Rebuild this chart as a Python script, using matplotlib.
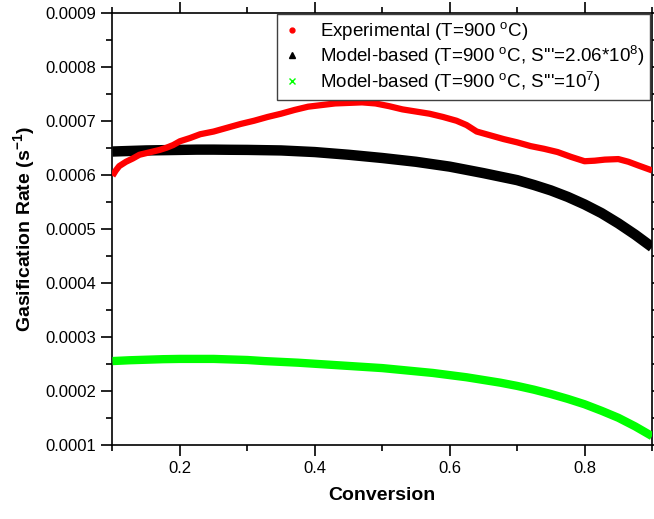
import numpy as np
import matplotlib
matplotlib.use('Agg')
import matplotlib.pyplot as plt
from matplotlib.lines import Line2D
from matplotlib.ticker import MultipleLocator, FormatStrFormatter

plt.rcParams['font.family'] = 'Liberation Sans'
plt.rcParams['mathtext.fontset'] = 'custom'
plt.rcParams['mathtext.rm'] = 'Liberation Sans'
plt.rcParams['mathtext.it'] = 'Liberation Sans:italic'
plt.rcParams['mathtext.bf'] = 'Liberation Sans:bold'

# experimental gasification rate (x1e-4 s^-1)
conv_exp = [0.100, 0.105, 0.110, 0.120, 0.130, 0.140, 0.150, 0.160, 0.170, 0.180,
            0.190, 0.200, 0.215, 0.230, 0.250, 0.270, 0.290, 0.310, 0.330, 0.350,
            0.370, 0.390, 0.410, 0.430, 0.450, 0.470, 0.490, 0.510, 0.530, 0.550,
            0.570, 0.590, 0.610, 0.625, 0.640, 0.660, 0.680, 0.700, 0.720, 0.740,
            0.760, 0.780, 0.800, 0.815, 0.830, 0.850, 0.865, 0.880, 0.900]
rate_exp = [5.98, 6.08, 6.16, 6.24, 6.30, 6.37, 6.40, 6.43, 6.46, 6.50,
            6.55, 6.62, 6.68, 6.75, 6.80, 6.87, 6.94, 7.00, 7.07, 7.13,
            7.20, 7.26, 7.29, 7.32, 7.33, 7.34, 7.32, 7.27, 7.21, 7.17,
            7.13, 7.07, 7.00, 6.92, 6.80, 6.73, 6.66, 6.60, 6.53, 6.48,
            6.42, 6.33, 6.25, 6.26, 6.28, 6.29, 6.24, 6.17, 6.08]

# model predictions (x1e-4 s^-1)
conv_mod = [0.100, 0.125, 0.150, 0.175, 0.200, 0.225, 0.250, 0.275, 0.300, 0.325,
            0.350, 0.375, 0.400, 0.425, 0.450, 0.475, 0.500, 0.525, 0.550, 0.575,
            0.600, 0.625, 0.650, 0.675, 0.700, 0.725, 0.750, 0.775, 0.800, 0.825,
            0.850, 0.875, 0.900]
rate_mod_a = [6.43, 6.44, 6.45, 6.455, 6.46, 6.465, 6.465, 6.462, 6.46, 6.455,
              6.45, 6.435, 6.42, 6.395, 6.37, 6.34, 6.31, 6.275, 6.24, 6.195,
              6.15, 6.09, 6.03, 5.965, 5.90, 5.81, 5.71, 5.59, 5.45, 5.29,
              5.10, 4.89, 4.66]
rate_mod_b = [2.55, 2.565, 2.575, 2.585, 2.59, 2.59, 2.59, 2.58, 2.57, 2.55,
              2.535, 2.52, 2.50, 2.48, 2.46, 2.44, 2.42, 2.39, 2.36, 2.33,
              2.29, 2.25, 2.20, 2.15, 2.09, 2.02, 1.94, 1.85, 1.75, 1.63,
              1.50, 1.34, 1.16]

scale = 1e-4

fig = plt.figure(figsize=(6.54, 5.19), dpi=100)
ax = fig.add_axes([0.172, 0.143, 0.825, 0.8325])

ax.plot(conv_exp, np.array(rate_exp) * scale, color='red', lw=4.5,
        solid_capstyle='butt', solid_joinstyle='round', zorder=4)
ax.plot(conv_mod, np.array(rate_mod_a) * scale, color='black', lw=7.5,
        solid_capstyle='butt', solid_joinstyle='round', zorder=3)
ax.plot(conv_mod, np.array(rate_mod_b) * scale, color='#00ff00', lw=6,
        solid_capstyle='butt', solid_joinstyle='round', zorder=3)

ax.set_xlim(0.1, 0.9)
ax.set_ylim(0.0001, 0.0009)
ax.xaxis.set_major_locator(MultipleLocator(0.2))
ax.xaxis.set_minor_locator(MultipleLocator(0.1))
ax.yaxis.set_major_locator(MultipleLocator(0.0001))
ax.yaxis.set_minor_locator(MultipleLocator(0.00005))
ax.yaxis.set_major_formatter(FormatStrFormatter('%.4f'))
ax.tick_params(which='both', direction='out', top=True, right=True,
               labelsize=12, width=1.2)
ax.tick_params(which='major', length=8)
ax.tick_params(which='minor', length=4)
for s in ax.spines.values():
    s.set_linewidth(1.2)

ax.set_xlabel('Conversion', fontsize=14, fontweight='bold', labelpad=8)
ax.set_ylabel(r'Gasification Rate (s$^{\mathbf{-1}}$)', fontsize=14,
              fontweight='bold', labelpad=6)

handles = [
    Line2D([], [], ls='none', marker='o', ms=3.5, color='red'),
    Line2D([], [], ls='none', marker='^', ms=4.5, color='black'),
    Line2D([], [], ls='none', marker='x', ms=4.5, mew=1, color='#00ff00'),
]
labels = [
    r'Experimental (T=900 $^{\rm o}$C)',
    r"Model-based (T=900 $^{\rm o}$C, S'''=2.06*10$^{8}$)",
    r"Model-based (T=900 $^{\rm o}$C, S'''=10$^{7}$)",
]
leg = ax.legend(handles, labels, loc='upper right', bbox_to_anchor=(0.996, 0.996),
                fontsize=13.5, fancybox=False, framealpha=1, edgecolor='#404040',
                handlelength=1.0, handletextpad=1.0, borderpad=0.3,
                labelspacing=0.1, borderaxespad=0)
leg.get_frame().set_linewidth(1.0)

fig.savefig('out.png', dpi=100)
